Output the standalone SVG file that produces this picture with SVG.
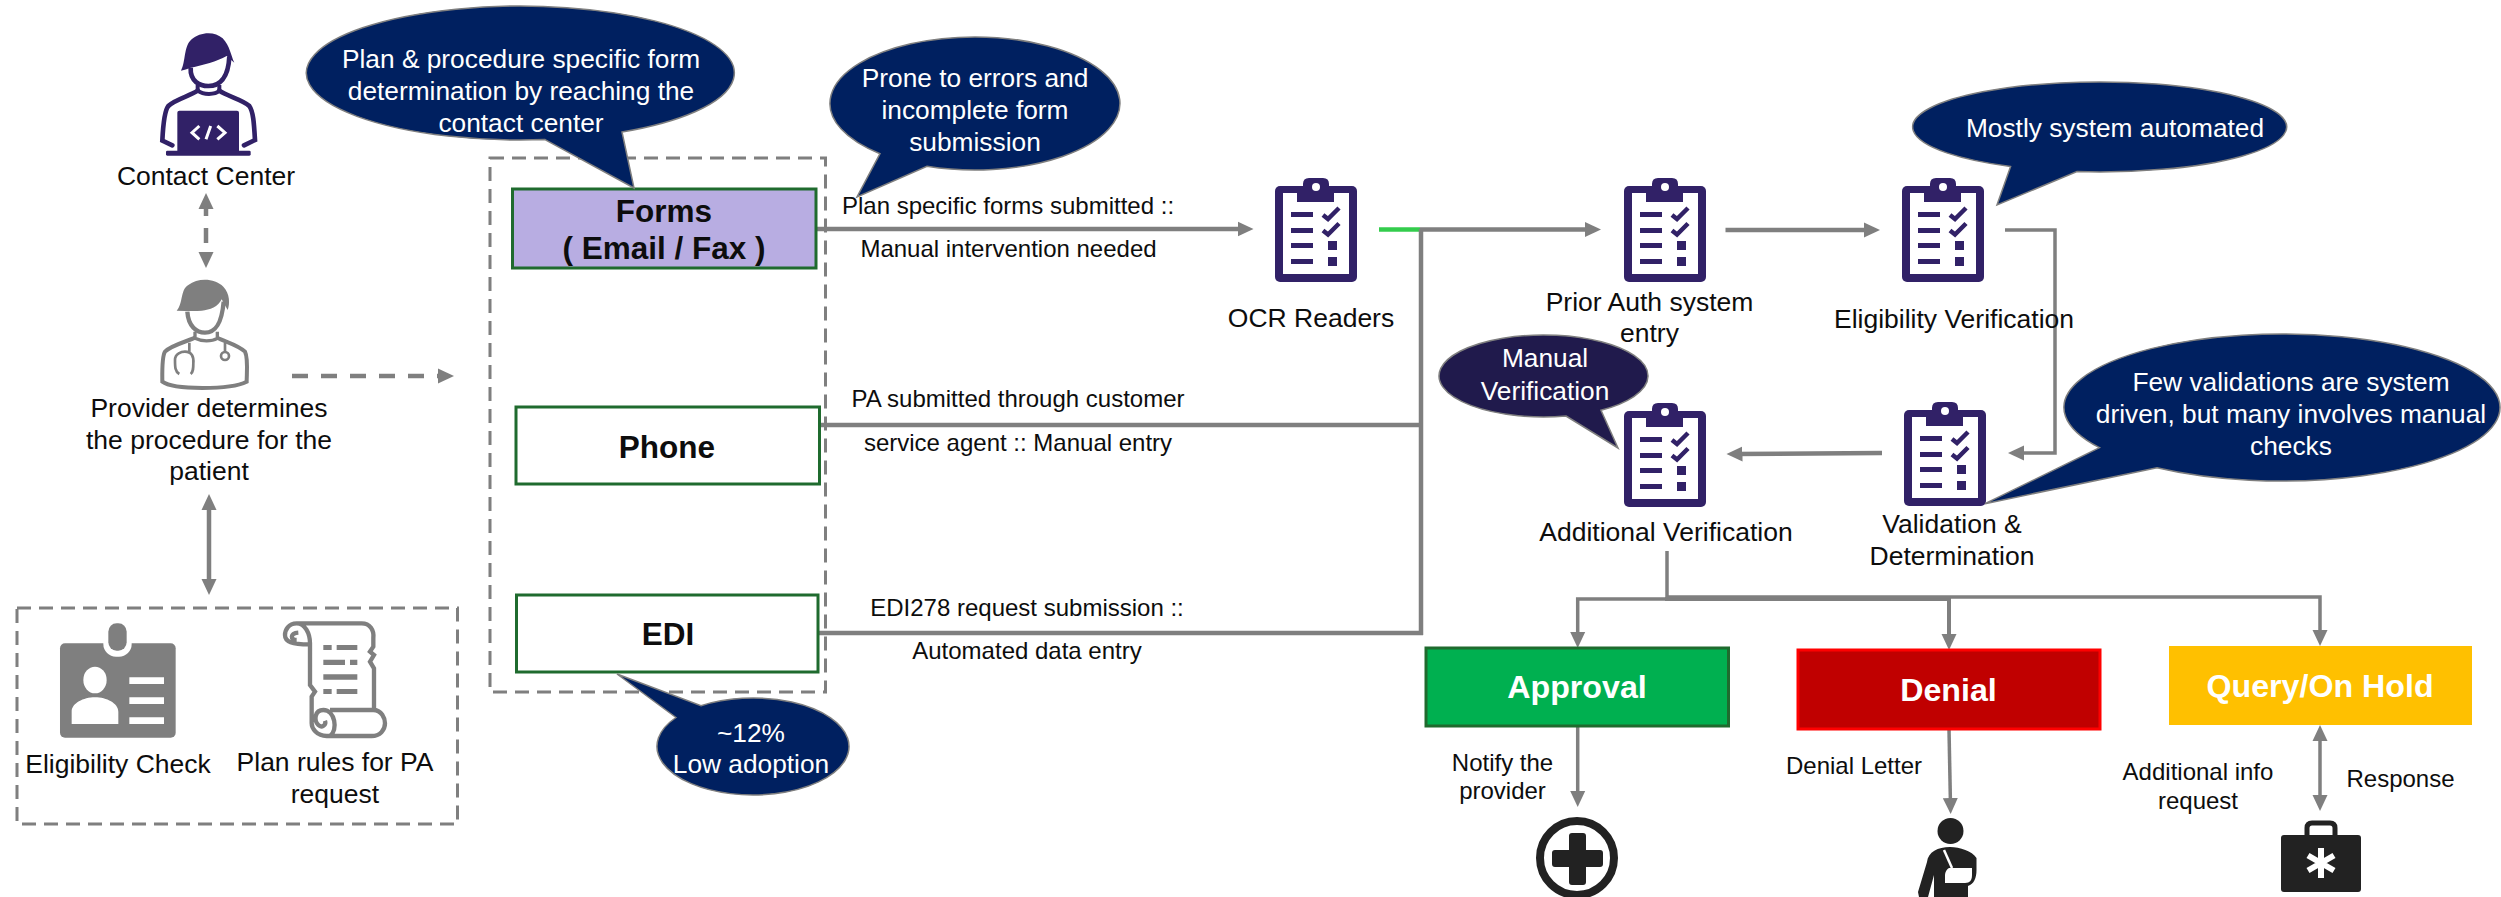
<svg xmlns="http://www.w3.org/2000/svg" xmlns:xlink="http://www.w3.org/1999/xlink" width="2501" height="897" viewBox="0 0 2501 897">
<style>
text{font-family:"Liberation Sans",Arial,sans-serif;text-anchor:middle;fill:#0d0d0d}
.t26{font-size:26.5px}
.t24{font-size:24px}
.w{font-size:26.3px;fill:#fff}
.b{font-size:31.5px;font-weight:bold}
.bw{font-size:32.2px;font-weight:bold;fill:#fff}
.bubble{fill:#002060;stroke:#7f7f7f;stroke-width:1.5}
.bubble2{fill:#201a4c;stroke:#7f7f7f;stroke-width:1.5}
.dbox{fill:none;stroke:#7f7f7f;stroke-width:3;stroke-dasharray:14 8}
.box{stroke:#1f6b2e;stroke-width:3}
.c{fill:none;stroke:#7f7f7f;stroke-width:4.5}
.c2{fill:none;stroke:#7f7f7f;stroke-width:3.5}
.end{marker-end:url(#ah)}
.both{marker-end:url(#ah);marker-start:url(#ah)}
.pu{fill:#312167}
.bl{fill:#222}
</style>
<defs>
<marker id="ah" markerUnits="userSpaceOnUse" markerWidth="17" markerHeight="16" refX="8" refY="8" orient="auto-start-reverse"><path d="M0 .5L16 8L0 15.500Z" fill="#7f7f7f"/></marker>
<g id="clip">
<rect x="0" y="8" width="82" height="96" rx="5" class="pu"/>
<rect x="8" y="15" width="66" height="81" fill="#fff"/>
<path class="pu" d="M22 15H28V6Q28 0 34 0H48Q54 0 54 6V15H59V24H22Z"/>
<circle cx="41" cy="9" r="4" fill="#fff"/>
<path class="pu" d="M16 34H38V39H16ZM16 50H38V55H16ZM16 65H38V70H16ZM16 81H38V86H16ZM53 63H62V72H53ZM53 79H62V88H53Z"/>
<path d="M48 37L53 41L64 30M48 52.500L53 56.500L64 45.500" fill="none" stroke="#312167" stroke-width="4.500"/>
</g>
</defs>

<rect width="2501" height="897" fill="#fff"/>

<g id="containers">
<rect class="dbox" x="490" y="158" width="335.500" height="534"/>
<rect class="dbox" x="17" y="608" width="440.500" height="216"/>
</g>

<g id="connectors">
<path class="c both" stroke-dasharray="15 12" d="M206 201V260"/>
<path class="c end" stroke-dasharray="16 13" d="M292 376H446"/>
<path class="c both" d="M209 502V587"/>
<path class="c end" d="M816 229H1245.500"/>
<path d="M1379 229.500H1420" fill="none" stroke="#33cc4c" stroke-width="4.500"/>
<path class="c end" d="M1420 229.500H1593"/>
<path class="c" d="M1421 229V635"/>
<path class="c" d="M820 425H1421"/>
<path class="c" d="M818 633H1423"/>
<path class="c end" d="M1725.500 230H1872"/>
<path class="c2 end" d="M2005 230H2055V453H2016"/>
<path class="c end" d="M1882 453L1734.500 454"/>
<path class="c2" d="M1667 551V599"/>
<path class="c2 end" d="M1667 599H1577.700V640"/>
<path class="c end" style="stroke-width:4" d="M1665 599H1949V642"/>
<path class="c2 end" d="M1667 597H2320V638"/>
<path class="c2 end" d="M1577.700 726V799"/>
<path class="c2 end" d="M1949 729L1950.500 806"/>
<path class="c2 both" d="M2320 733V803"/>
</g>

<g id="contact-center">
<g transform="translate(100 20) scale(.33333)">
<path class="pu" d="M243 152C258 125 250 80 275 58C300 35 345 33 368 55C390 78 392 105 403 128L380 108C350 125 310 135 272 143C262 147 252 150 243 152Z"/>
<path fill="none" stroke="#312167" stroke-width="14" d="M272 143C270 185 300 198 325 198C358 198 385 175 388 110"/>
<path fill="none" stroke="#312167" stroke-width="12" d="M293 195V212C310 225 345 225 358 212V195"/>
<path fill="none" stroke="#312167" stroke-width="14" stroke-linecap="round" d="M293 212C270 228 225 238 205 258C195 270 190 300 187 362L217 376M358 212C380 228 430 240 448 258C460 275 462 310 465 360L432 376"/>
<rect class="pu" x="232" y="272" width="185" height="125" rx="6"/>
<rect class="pu" x="198" y="392" width="254" height="15" rx="4"/>
<path fill="none" stroke="#fff" stroke-width="9" d="M298 318L276 338L298 358M352 318L375 338L352 358M332 318L318 358"/>
</g>
<text class="t26" x="206" y="185">Contact Center</text>
</g>

<g id="provider">
<g transform="translate(130 270) scale(.33333)" fill="none" stroke="#7f7f7f">
<path fill="#7f7f7f" stroke="none" d="M140 122C160 100 150 60 175 45C205 22 255 25 280 50C300 72 300 100 293 120L275 88C265 110 240 120 215 122C190 125 165 122 140 122Z"/>
<path stroke-width="13" d="M172 125C175 170 200 188 225 188C255 188 275 165 281 95"/>
<path stroke-width="10" d="M195 185V205C215 215 245 215 262 205V185"/>
<path stroke-width="12" d="M195 203C170 215 125 225 105 245C95 260 97 320 97 335C130 360 300 360 350 335C350 310 355 265 345 245C325 225 285 215 262 203"/>
<path stroke-width="8" d="M178 218V245M148 312C135 305 135 290 135 270C135 250 155 245 165 245C185 245 192 260 190 280C190 295 190 305 182 312M285 218V245"/>
<circle cx="285" cy="258" r="12" stroke-width="8"/>
</g>
<text class="t26" x="209" y="417">Provider determines</text>
<text class="t26" x="209" y="449">the procedure for the</text>
<text class="t26" x="209" y="480">patient</text>
</g>

<g id="eligibility-check">
<g transform="translate(40 610) scale(.33333)">
<rect x="60" y="100" width="347" height="283" rx="15" fill="#7f7f7f"/>
<rect x="190" y="60" width="85" height="80" rx="38" fill="#fff"/>
<rect x="205" y="40" width="55" height="82" rx="25" fill="#7f7f7f"/>
<ellipse cx="165" cy="210" rx="35" ry="40" fill="#fff"/>
<path fill="#fff" d="M95 342V305C95 280 130 262 165 262C200 262 235 280 235 305V342ZM268 202H372V222H268ZM268 262H372V282H268ZM268 322H372V342H268Z"/>
</g>
<text class="t26" x="118" y="773">Eligibility Check</text>
</g>

<g id="plan-rules">
<g transform="translate(40 610) scale(.33333)">
<path fill="none" stroke="#7f7f7f" stroke-width="13" d="M770 40H965C990 40 1003 60 1000 85V110L990 125L1002 135L990 155L1002 175V300M870 300H1000C1025 300 1035 325 1035 340C1035 360 1020 378 995 378H860C830 378 815 355 815 340V260L825 245L810 225V100C810 70 795 40 770 40C745 40 735 60 735 75C735 95 755 103 808 103M770 90C750 90 750 70 775 68M870 378C895 360 885 300 850 300C825 300 820 330 835 345C845 355 860 345 855 332"/>
<path fill="#7f7f7f" d="M850 105H875V120H850ZM890 105H952V120H890ZM850 149H915V165H850ZM930 149H952V165H930ZM850 193H952V209H850ZM850 237H875V252H850ZM890 237H952V252H890Z"/>
</g>
<text class="t26" x="335" y="771">Plan rules for PA</text>
<text class="t26" x="335" y="803">request</text>
</g>

<g id="forms">
<rect class="box" x="512.500" y="189" width="303.500" height="79" fill="#b8ade2"/>
<text class="b" x="664" y="222">Forms</text>
<text class="b" x="664" y="259">( Email / Fax )</text>
</g>
<g id="phone">
<rect class="box" x="516" y="407" width="303.500" height="77" fill="#fff"/>
<text class="b" x="667" y="458">Phone</text>
</g>
<g id="edi">
<rect class="box" x="516.500" y="595" width="301.500" height="77" fill="#fff"/>
<text class="b" x="668" y="645">EDI</text>
</g>

<g id="connector-labels">
<text class="t24" x="1008" y="214">Plan specific forms submitted ::</text>
<text class="t24" x="1008.500" y="257">Manual intervention needed</text>
<text class="t24" x="1018" y="407">PA submitted through customer</text>
<text class="t24" x="1018" y="451">service agent :: Manual entry</text>
<text class="t24" x="1027" y="616">EDI278 request submission ::</text>
<text class="t24" x="1027" y="659">Automated data entry</text>
<text class="t24" x="1502.500" y="771">Notify the</text>
<text class="t24" x="1502.500" y="799">provider</text>
<text class="t24" x="1854" y="774">Denial Letter</text>
<text class="t24" x="2198" y="780">Additional info</text>
<text class="t24" x="2198" y="809">request</text>
<text class="t24" x="2400.500" y="787">Response</text>
</g>

<g id="ocr-readers">
<use href="#clip" x="1275" y="178"/>
<text class="t26" x="1311" y="327">OCR Readers</text>
</g>
<g id="prior-auth">
<use href="#clip" x="1624" y="178"/>
<text class="t26" x="1649.500" y="311">Prior Auth system</text>
<text class="t26" x="1649.500" y="342">entry</text>
</g>
<g id="eligibility-verification">
<use href="#clip" x="1902" y="178"/>
<text class="t26" x="1954" y="328">Eligibility Verification</text>
</g>
<g id="validation">
<use href="#clip" x="1904" y="402"/>
<text class="t26" x="1952" y="533">Validation &amp;</text>
<text class="t26" x="1952" y="565">Determination</text>
</g>
<g id="additional-verification">
<use href="#clip" x="1624" y="403"/>
<text class="t26" x="1666" y="541">Additional Verification</text>
</g>

<g id="approval">
<rect x="1426" y="648" width="302.500" height="78" fill="#00b050" stroke="#1f6b2e" stroke-width="3"/>
<text class="bw" x="1577" y="698">Approval</text>
</g>
<g id="denial">
<rect x="1798" y="650" width="302" height="79" fill="#c00000" stroke="#ff0000" stroke-width="3"/>
<text class="bw" x="1948.500" y="701">Denial</text>
</g>
<g id="query">
<rect x="2169" y="646" width="303" height="79" fill="#ffc000"/>
<text class="bw" x="2320" y="697">Query/On Hold</text>
</g>

<g id="icon-provider">
<circle cx="1577" cy="858" r="37" fill="none" stroke="#222" stroke-width="8"/>
<path class="bl" d="M1572 833H1583Q1586 833 1586 836V850H1600Q1603 850 1603 853V864Q1603 867 1600 867H1586V882Q1586 885 1583 885H1572Q1569 885 1569 882V867H1555Q1552 867 1552 864V853Q1552 850 1555 850H1569V836Q1569 833 1572 833Z"/>
</g>
<g id="icon-patient">
<ellipse class="bl" cx="1950.500" cy="831" rx="13" ry="13"/>
<path class="bl" d="M1950 847C1938 847 1928 852 1927 862L1918 892L1919 897H1928L1934 875V897H1968V886C1974 884 1976.500 878 1976.500 870V858C1972 851 1960 847 1950 847Z"/>
<path fill="#fff" d="M1952 868H1972V875C1972 880 1970 883 1965 883H1945V875C1945 872 1947 869 1949 868Z"/>
<path d="M1944 850L1952 868" stroke="#fff" stroke-width="2.500"/>
</g>
<g id="icon-bag">
<path fill="none" stroke="#222" stroke-width="5" d="M2307 838V828Q2307 823 2312 823H2330Q2335 823 2335 828V838"/>
<rect class="bl" x="2281" y="835" width="80" height="57" rx="3"/>
<path stroke="#fff" stroke-width="6" d="M2321 848V878M2308 855.500L2334 870.500M2334 855.500L2308 870.500"/>
</g>

<g id="callout-form">
<path class="bubble" d="M545 139.600L634 188L622 132A214 67 0 1 0 545 139.600Z"/>
<text class="w" x="521" y="68">Plan &amp; procedure specific form</text>
<text class="w" x="521" y="100">determination by reaching the</text>
<text class="w" x="521" y="132">contact center</text>
</g>
<g id="callout-errors">
<path class="bubble" d="M880 153.700L857 197L927 166.200A145 66.500 0 1 0 880 153.700Z"/>
<text class="w" x="975" y="87">Prone to errors and</text>
<text class="w" x="975" y="119">incomplete form</text>
<text class="w" x="975" y="151">submission</text>
</g>
<g id="callout-adoption">
<path class="bubble" d="M676 717.500L617 674L701 705.700A96 48.500 0 1 1 676 717.500Z"/>
<text class="w" x="751" y="742">~12%</text>
<text class="w" x="751" y="773">Low adoption</text>
</g>
<g id="callout-automated">
<path class="bubble" d="M2010.600 166.500L1997 205L2077 171.600A187 45 0 1 0 2010.600 166.500Z"/>
<text class="w" x="2115" y="137">Mostly system automated</text>
</g>
<g id="callout-validations">
<path class="bubble" d="M2099.500 447.700L1985 503.700L2157 467.700A218 73.500 0 1 0 2099.500 447.700Z"/>
<text class="w" x="2291" y="391">Few validations are system</text>
<text class="w" x="2291" y="423">driven, but many involves manual</text>
<text class="w" x="2291" y="455">checks</text>
</g>
<g id="callout-manual">
<path class="bubble2" d="M1566 416L1618 448L1601 410.200A104.500 41 0 1 0 1566 416Z"/>
<text class="w" x="1545" y="367">Manual</text>
<text class="w" x="1545" y="400">Verification</text>
</g>
</svg>
